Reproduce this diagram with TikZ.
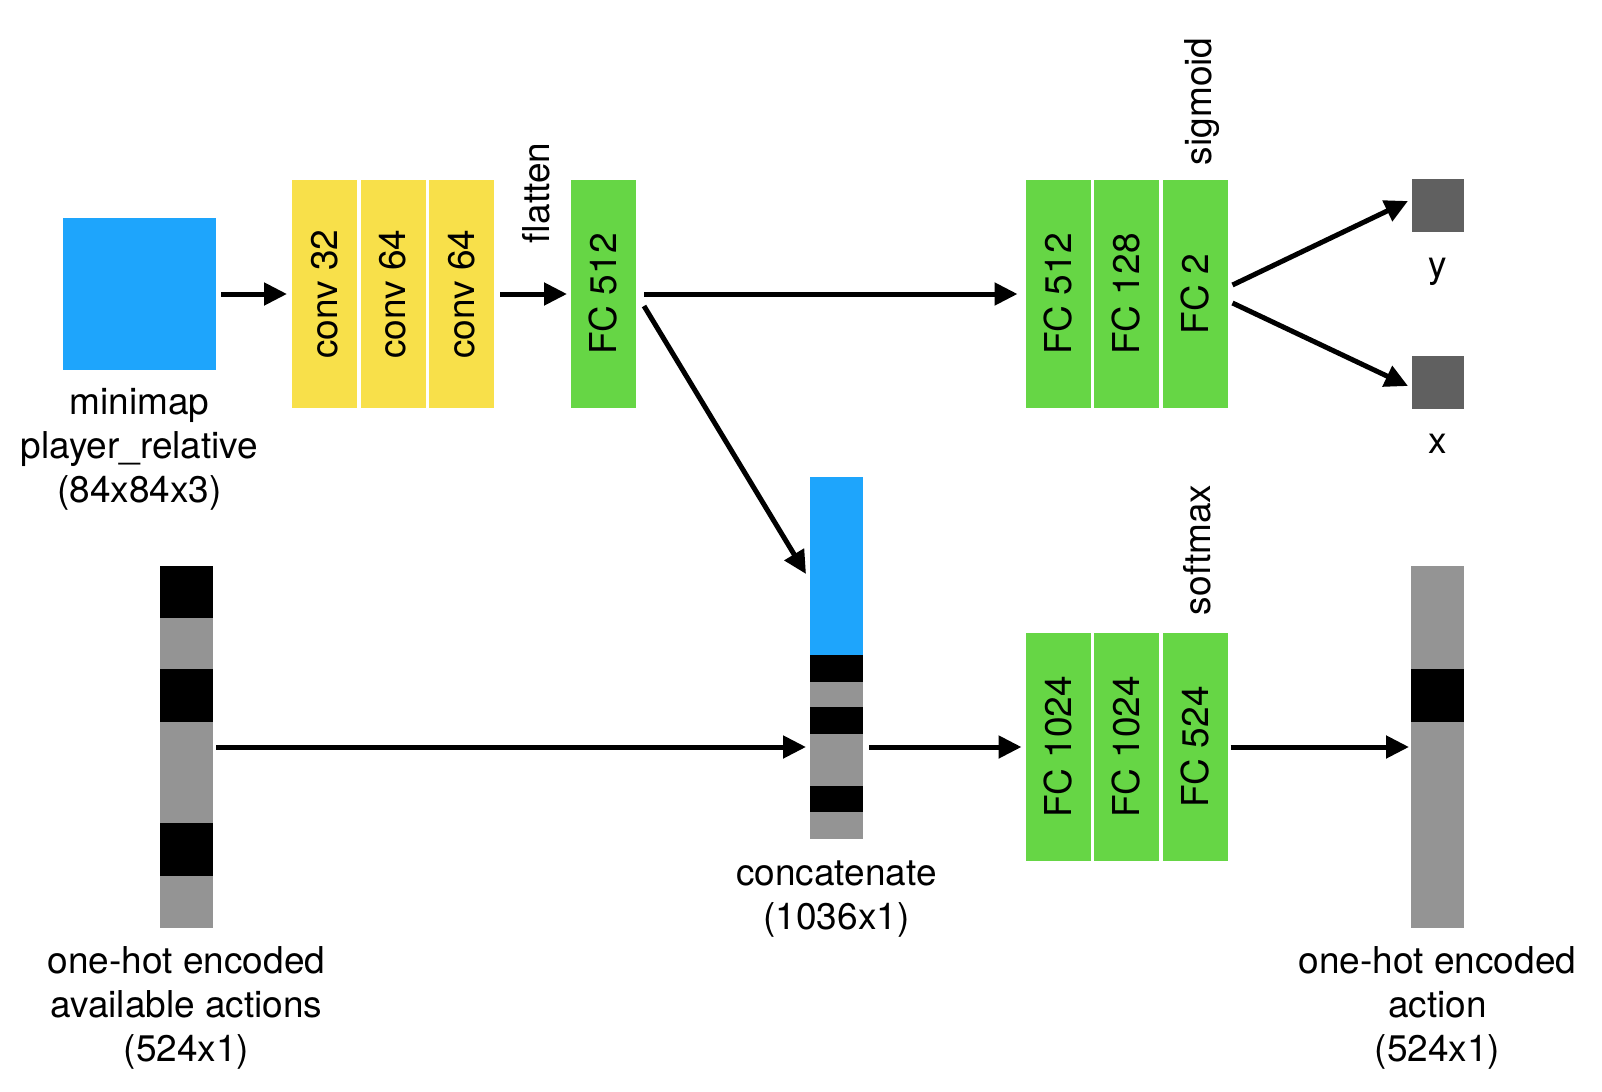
\documentclass[tikz,border=0pt]{standalone}
\usepackage{fontspec}
\setmainfont{TeX Gyre Heros}
\usetikzlibrary{arrows.meta,calc}
\definecolor{cblue}{RGB}{30,165,252}
\definecolor{cyellow}{RGB}{248,224,74}
\definecolor{cgreen}{RGB}{102,214,69}
\definecolor{cgray}{RGB}{148,148,148}
\definecolor{cdark}{RGB}{96,96,96}
\tikzset{
  rect/.style={draw=none, inner sep=0pt, outer sep=0pt},
  convbox/.style={rect, fill=cyellow, minimum width=32.5pt, minimum height=114pt},
  fcbox/.style={rect, fill=cgreen, minimum width=32.5pt, minimum height=114pt},
  outsq/.style={rect, fill=cdark, minimum width=26pt, minimum height=26.5pt},
  lbl/.style={font=\fontsize{18.5}{22}\selectfont, inner sep=0pt, outer sep=0pt, align=center},
  rlbl/.style={lbl, rotate=90},
  arr/.style={line width=2.5pt, -{Triangle[length=11.5pt,width=11pt]}},
}
\begin{document}
\begin{tikzpicture}[x=0.5pt,y=-0.5pt]
\useasboundingbox (0,0) rectangle (1602,1092);
% input
\node[rect, fill=cblue, minimum width=76.5pt, minimum height=76pt] (mini) at (139.5,294) {};
\node[lbl, anchor=base] (minilbl) at (139.5,502) {minimap\\player\_relative\\(84x84x3)};
% conv
\node[convbox] (c1) at (324.5,294) {};
\node[convbox] (c2) at (393,294) {};
\node[convbox] (c3) at (461.5,294) {};
\node[rlbl] (c1t) at (c1) {conv 32};
\node[rlbl] (c2t) at (c2) {conv 64};
\node[rlbl] (c3t) at (c3) {conv 64};
% flatten
\node[rlbl, anchor=base west] (flat) at (549,243) {flatten};
\node[fcbox] (fc) at (603.5,294) {};
\node[rlbl] (fct) at (fc) {FC 512};
% top head
\node[fcbox] (g1) at (1058,294) {};
\node[fcbox] (g2) at (1126.5,294) {};
\node[fcbox] (g3) at (1195,294) {};
\node[rlbl] (g1t) at (g1) {FC 512};
\node[rlbl] (g2t) at (g2) {FC 128};
\node[rlbl] (g3t) at (g3) {FC 2};
\node[rlbl, anchor=base west] (sig) at (1211,165) {sigmoid};
\node[outsq] (ysq) at (1438,205.5) {};
\node[outsq] (xsq) at (1438,382) {};
\node[lbl, anchor=base] (ylbl) at (1438,277) {y};
\node[lbl, anchor=base] (xlbl) at (1438,453) {x};
% available actions bar
\node[rect, fill=cgray, minimum width=26.5pt, minimum height=181pt] (avail) at (186.5,747) {};
\fill[black] (160,566) rectangle (213,618);
\fill[black] (160,669) rectangle (213,722);
\fill[black] (160,823) rectangle (213,876);
\node[lbl, anchor=base] (availlbl) at (186.5,1061) {one-hot encoded\\available actions\\(524x1)};
% concat bar
\node[rect, fill=cgray, minimum width=26.5pt, minimum height=181pt] (concat) at (836.5,658) {};
\fill[cblue] (810,477) rectangle (863,655);
\fill[black] (810,655) rectangle (863,682);
\fill[black] (810,707) rectangle (863,734);
\fill[black] (810,786) rectangle (863,812);
\node[lbl, anchor=base] (concatlbl) at (836.5,929) {concatenate\\(1036x1)};
% bottom head
\node[fcbox] (f1) at (1058,747) {};
\node[fcbox] (f2) at (1126.5,747) {};
\node[fcbox] (f3) at (1195,747) {};
\node[rlbl] (f1t) at (f1) {FC 1024};
\node[rlbl] (f2t) at (f2) {FC 1024};
\node[rlbl] (f3t) at (f3) {FC 524};
\node[rlbl, anchor=base west] (soft) at (1210,615) {softmax};
% output bar
\node[rect, fill=cgray, minimum width=26.5pt, minimum height=181pt] (out) at (1437.5,747) {};
\fill[black] (1411,669) rectangle (1464,722);
\node[lbl, anchor=base] (outlbl) at (1437.5,1061) {one-hot encoded\\action\\(524x1)};
% arrows
\draw[arr] ([xshift=2.5pt]mini.east) -- ([xshift=-2.5pt]c1.west);
\draw[arr] ([xshift=3pt]c3.east) -- ([xshift=-2pt]fc.west);
\draw[arr] ([xshift=4pt]fc.east) -- ([xshift=-4pt]g1.west);
\draw[arr] ([xshift=4pt,yshift=-6pt]fc.east) -- ([xshift=-2pt,yshift=42pt]concat.west);
\draw[arr] ([xshift=2.5pt,yshift=4.5pt]g3.east) -- ([xshift=-2pt,yshift=2.25pt]ysq.west);
\draw[arr] ([xshift=2.5pt,yshift=-4.5pt]g3.east) -- ([xshift=-2pt,yshift=-2pt]xsq.west);
\draw[arr] ([xshift=1.5pt]avail.east) -- ([xshift=-2pt]avail.east -| concat.west);
\draw[arr] ([xshift=3pt]concat.east |- f1.west) -- ([xshift=-2pt]f1.west);
\draw[arr] ([xshift=1.5pt]f3.east) -- ([xshift=-1pt]out.west);
\end{tikzpicture}
\end{document}
